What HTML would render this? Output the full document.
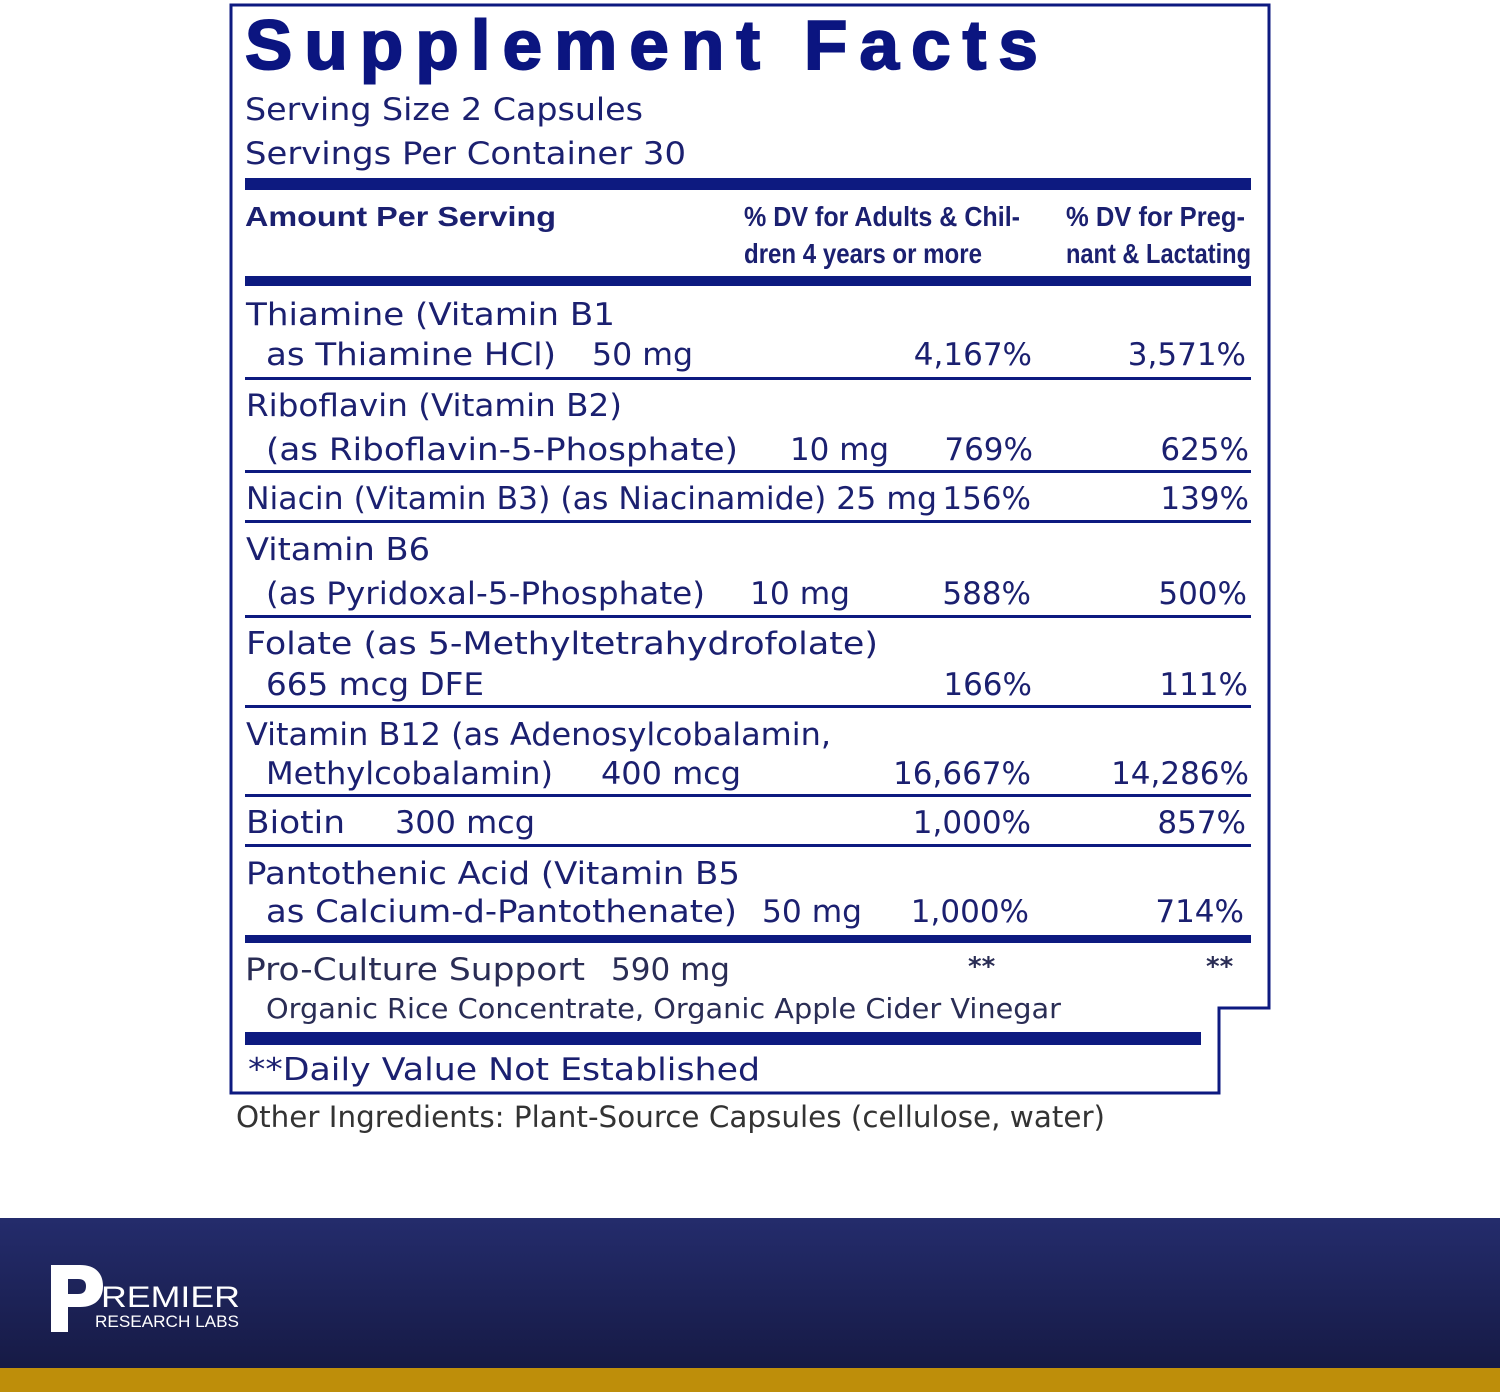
<!DOCTYPE html>
<html><head><meta charset="utf-8"><style>
html,body{margin:0;padding:0;background:#fff;}
svg{display:block;}
.b{font-family:"DejaVu Sans","Liberation Sans",sans-serif;font-size:31px;fill:#1b2070;}
.n{font-family:"DejaVu Sans","Liberation Sans",sans-serif;font-size:31px;fill:#1b2070;text-anchor:end;}
.h{font-family:"Liberation Sans",sans-serif;font-weight:bold;font-size:28px;fill:#1b2070;}
</style></head><body>
<svg width="1500" height="1392" viewBox="0 0 1500 1392" xmlns="http://www.w3.org/2000/svg">
<defs><linearGradient id="bn" x1="0" y1="0" x2="0" y2="1"><stop offset="0" stop-color="#242c6c"/><stop offset="1" stop-color="#161a45"/></linearGradient></defs>
<polyline points="231,1093 231,5 1269,5 1269,1008 1219,1008 1219,1093 231,1093 231,5" fill="none" stroke="#0d1a80" stroke-width="3"/>
<text x="245" y="69" font-family="Liberation Sans,sans-serif" font-weight="bold" font-size="70" fill="#0b1580" stroke="#0b1580" stroke-width="2" letter-spacing="12" textLength="805" lengthAdjust="spacingAndGlyphs">Supplement Facts</text>
<text class="b" x="245" y="120" textLength="398" lengthAdjust="spacingAndGlyphs">Serving Size 2 Capsules</text>
<text class="b" x="245" y="164" textLength="441" lengthAdjust="spacingAndGlyphs">Servings Per Container 30</text>
<g fill="#0d1a80">
<rect x="245" y="178" width="1006" height="12"/>
<rect x="245" y="276" width="1006" height="10"/>
<rect x="245" y="377" width="1006" height="3"/>
<rect x="245" y="470" width="1006" height="3"/>
<rect x="245" y="520" width="1006" height="3"/>
<rect x="245" y="615" width="1006" height="3"/>
<rect x="245" y="705" width="1006" height="3"/>
<rect x="245" y="794" width="1006" height="3"/>
<rect x="245" y="844" width="1006" height="3"/>
<rect x="245" y="935" width="1006" height="8"/>
<rect x="245" y="1032" width="956" height="13"/>
</g>
<text class="h" x="245" y="226" textLength="311" lengthAdjust="spacingAndGlyphs">Amount Per Serving</text>
<text class="h" x="744" y="226" textLength="276" lengthAdjust="spacingAndGlyphs">% DV for Adults &amp; Chil-</text>
<text class="h" x="744" y="263" textLength="238" lengthAdjust="spacingAndGlyphs">dren 4 years or more</text>
<text class="h" x="1066" y="226" textLength="179" lengthAdjust="spacingAndGlyphs">% DV for Preg-</text>
<text class="h" x="1066" y="263" textLength="185" lengthAdjust="spacingAndGlyphs">nant &amp; Lactating</text>

<g>
<text class="b" x="246" y="325" textLength="369" lengthAdjust="spacingAndGlyphs">Thiamine (Vitamin B1</text>
<text class="b" x="266" y="365" textLength="290" lengthAdjust="spacingAndGlyphs">as Thiamine HCl)</text>
<text class="b" x="592" y="365" textLength="101" lengthAdjust="spacingAndGlyphs">50 mg</text>
<text class="n" x="1032" y="365">4,167%</text><text class="n" x="1246" y="365">3,571%</text></g>
<g>
<text class="b" x="246" y="416" textLength="376" lengthAdjust="spacingAndGlyphs">Riboflavin (Vitamin B2)</text>
<text class="b" x="266" y="460" textLength="472" lengthAdjust="spacingAndGlyphs">(as Riboflavin-5-Phosphate)</text>
<text class="b" x="790" y="460" textLength="99" lengthAdjust="spacingAndGlyphs">10 mg</text>
<text class="n" x="1033" y="460">769%</text><text class="n" x="1249" y="460">625%</text></g>
<g>
<text class="b" x="246" y="509" textLength="691" lengthAdjust="spacingAndGlyphs">Niacin (Vitamin B3) (as Niacinamide) 25 mg</text>
<text class="n" x="1031" y="509">156%</text><text class="n" x="1249" y="509">139%</text></g>
<g>
<text class="b" x="246" y="560" textLength="184" lengthAdjust="spacingAndGlyphs">Vitamin B6</text>
<text class="b" x="266" y="604" textLength="439" lengthAdjust="spacingAndGlyphs">(as Pyridoxal-5-Phosphate)</text>
<text class="b" x="750" y="604" textLength="100" lengthAdjust="spacingAndGlyphs">10 mg</text>
<text class="n" x="1031" y="604">588%</text><text class="n" x="1247" y="604">500%</text></g>
<g>
<text class="b" x="246" y="654" textLength="632" lengthAdjust="spacingAndGlyphs">Folate (as 5-Methyltetrahydrofolate)</text>
<text class="b" x="266" y="695" textLength="218" lengthAdjust="spacingAndGlyphs">665 mcg DFE</text>
<text class="n" x="1032" y="695">166%</text><text class="n" x="1248" y="695">111%</text></g>
<g>
<text class="b" x="246" y="745" textLength="585" lengthAdjust="spacingAndGlyphs">Vitamin B12 (as Adenosylcobalamin,</text>
<text class="b" x="266" y="784" textLength="287" lengthAdjust="spacingAndGlyphs">Methylcobalamin)</text>
<text class="b" x="601" y="784" textLength="140" lengthAdjust="spacingAndGlyphs">400 mcg</text>
<text class="n" x="1031" y="784">16,667%</text><text class="n" x="1249" y="784">14,286%</text></g>
<g>
<text class="b" x="246" y="833" textLength="99" lengthAdjust="spacingAndGlyphs">Biotin</text>
<text class="b" x="395" y="833" textLength="140" lengthAdjust="spacingAndGlyphs">300 mcg</text>
<text class="n" x="1031" y="833">1,000%</text><text class="n" x="1246" y="833">857%</text></g>
<g>
<text class="b" x="246" y="884" textLength="494" lengthAdjust="spacingAndGlyphs">Pantothenic Acid (Vitamin B5</text>
<text class="b" x="266" y="922" textLength="471" lengthAdjust="spacingAndGlyphs">as Calcium-d-Pantothenate)</text>
<text class="b" x="762" y="922" textLength="100" lengthAdjust="spacingAndGlyphs">50 mg</text>
<text class="n" x="1029" y="922">1,000%</text><text class="n" x="1244" y="922">714%</text></g>
<g>
<text class="b" x="245" y="980" textLength="340" lengthAdjust="spacingAndGlyphs" style="fill:#2a2d55">Pro-Culture Support</text>
<text class="b" x="611" y="980" textLength="119" lengthAdjust="spacingAndGlyphs" style="fill:#2a2d55">590 mg</text>
<text class="b" x="968" y="975" style="font-size:26px;font-weight:bold;fill:#2a2d55">**</text>
<text class="b" x="1206" y="975" style="font-size:26px;font-weight:bold;fill:#2a2d55">**</text>
<text class="b" x="266" y="1018" textLength="795" lengthAdjust="spacingAndGlyphs" style="font-size:28px;fill:#2a2d55">Organic Rice Concentrate, Organic Apple Cider Vinegar</text></g>
<text class="b" x="248" y="1080" textLength="512" lengthAdjust="spacingAndGlyphs">**Daily Value Not Established</text>
<text class="b" x="236" y="1127" textLength="869" lengthAdjust="spacingAndGlyphs" style="font-size:29px;fill:#333">Other Ingredients: Plant-Source Capsules (cellulose, water)</text>

<rect x="0" y="1218" width="1500" height="150" fill="url(#bn)"/>
<rect x="0" y="1368" width="1500" height="24" fill="#be8e0a"/>
<g fill="#fff">
<path d="M51,1265 L51,1332 L68,1332 L68,1307 L80,1307 C96,1307 103,1298 103,1286 C103,1273 95,1265 80,1265 Z M68,1279 L78,1279 C84,1279 86,1282 86,1286 C86,1291 84,1294 78,1294 L68,1294 Z"/>
<text x="101" y="1307" font-family="Liberation Sans,sans-serif" font-size="30" textLength="139" lengthAdjust="spacingAndGlyphs">REMIER</text>
<text x="95" y="1327" font-family="Liberation Sans,sans-serif" font-size="17" textLength="144" lengthAdjust="spacingAndGlyphs">RESEARCH LABS</text>
</g>
</svg>
</body></html>
